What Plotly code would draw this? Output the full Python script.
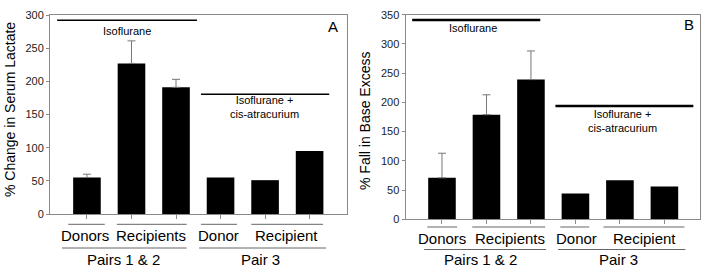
import plotly.graph_objects as go

# ---- data ----
positions = [1, 2, 3, 4, 5, 6]
lactate = [55, 227, 191, 55, 51, 95]
lactate_err = [5, 34, 12, None, None, None]
base_excess = [71, 179, 239, 44, 67, 56]
base_excess_err = [42, 34, 49, None, None, None]

group_labels = ["Donors", "Recipients", "Donor", "Recipient"]
pair_labels = ["Pairs 1 & 2", "Pair 3"]
treat_labels = ["Isoflurane", "Isoflurane +<br>cis-atracurium"]

# ---- decoration layout (positions in x data units) ----
A_group_spans = [(0.58, 1.40), (1.67, 3.24), (3.56, 4.37), (4.69, 6.30)]
A_group_text = [0.96, 2.44, 3.96, 5.49]
A_pair_spans = [(0.44, 3.24), (3.52, 6.37)]
A_pair_text = [1.82, 4.9]
A_treat = [((0.33, 3.47), 292), ((3.56, 6.44), 180.5)]
A_treat_text = [(1.9, 31), (4.98, 107)]

B_group_spans = [(0.67, 1.34), (1.68, 3.32), (3.66, 4.31), (4.63, 6.45)]
B_group_text = [1.0, 2.52, 4.03, 5.55]
B_pair_spans = [(0.60, 3.34), (3.61, 6.47)]
B_pair_text = [1.86, 4.97]
B_treat = [((0.33, 3.21), 341), ((3.55, 6.65), 194)]
B_treat_text = [(1.7, 28), (5.06, 120.5)]

W, H = 717, 272
FONT = "Liberation Sans, Arial, sans-serif"
GRAY = "#8a8a8a"

def py(px):
    return (H - px) / H

fig = go.Figure()

def add_bars(xs, ys, errs, xa, ya):
    with_err = [i for i, e in enumerate(errs) if e is not None]
    without = [i for i, e in enumerate(errs) if e is None]
    fig.add_trace(go.Bar(x=[xs[i] for i in with_err], y=[ys[i] for i in with_err], width=0.62,
                         marker=dict(color="black", line=dict(width=0)),
                         error_y=dict(type="data", array=[errs[i] for i in with_err], symmetric=False,
                                      arrayminus=[0] * len(with_err), color="#777777", thickness=1, width=4),
                         xaxis=xa, yaxis=ya, showlegend=False))
    fig.add_trace(go.Bar(x=[xs[i] for i in without], y=[ys[i] for i in without], width=0.62,
                         marker=dict(color="black", line=dict(width=0)),
                         xaxis=xa, yaxis=ya, showlegend=False))

add_bars(positions, lactate, lactate_err, "x", "y")
add_bars(positions, base_excess, base_excess_err, "x2", "y2")

axis_common = dict(showline=True, mirror=True, linecolor=GRAY, linewidth=1, showgrid=False,
                   zeroline=False, ticks="outside", tickcolor=GRAY, fixedrange=True, automargin=False)

fig.update_layout(
    template="none", barmode="overlay",
    width=W, height=H, margin=dict(l=0, r=0, t=0, b=0, pad=0), autosize=False,
    paper_bgcolor="white", plot_bgcolor="white", showlegend=False,
    font=dict(family=FONT, color="black"),
    xaxis=dict(domain=[50 / W, 347 / W], range=[0.17, 6.84], tickvals=positions,
               ticktext=[""] * 6, ticklen=4, **axis_common),
    yaxis=dict(domain=[py(214), py(15)], range=[0, 300], dtick=50, ticklen=3,
               tickfont=dict(size=11, color="#222222"), **axis_common),
    xaxis2=dict(domain=[405.5 / W, 700 / W], range=[0.18, 6.80], tickvals=positions,
                ticktext=[""] * 6, ticklen=4, anchor="y2", **axis_common),
    yaxis2=dict(domain=[py(219.3), py(14.7)], range=[0, 350], dtick=50, ticklen=3, anchor="x2",
                tickfont=dict(size=11, color="#222222"), **axis_common),
)

annotations = []
shapes = []

def add_panel(xr, yr, gspans, gtext, pspans, ptext, treat, treat_text, treat_w,
              gline_y, gtext_y, pline_y, ptext_y):
    for (a, b) in gspans:
        shapes.append(dict(type="line", xref=xr, yref="paper", x0=a, x1=b, y0=py(gline_y), y1=py(gline_y),
                           line=dict(color="#666666", width=1)))
    for lab, x in zip(group_labels, gtext):
        annotations.append(dict(text=lab, x=x, y=py(gtext_y), xref=xr, yref="paper", showarrow=False,
                                font=dict(size=15, family=FONT), xanchor="center", yanchor="middle"))
    for (a, b) in pspans:
        shapes.append(dict(type="line", xref=xr, yref="paper", x0=a, x1=b, y0=py(pline_y), y1=py(pline_y),
                           line=dict(color="#666666", width=1)))
    for lab, x in zip(pair_labels, ptext):
        annotations.append(dict(text=lab, x=x, y=py(ptext_y), xref=xr, yref="paper", showarrow=False,
                                font=dict(size=15, family=FONT), xanchor="center", yanchor="middle"))
    for ((a, b), yv) in treat:
        shapes.append(dict(type="line", xref=xr, yref=yr, x0=a, x1=b, y0=yv, y1=yv,
                           line=dict(color="black", width=treat_w)))
    for lab, (x, ypx) in zip(treat_labels, treat_text):
        annotations.append(dict(text=lab, x=x, y=py(ypx), xref=xr, yref="paper", showarrow=False,
                                align="center", font=dict(size=11, family=FONT),
                                xanchor="center", yanchor="middle"))

add_panel("x", "y", A_group_spans, A_group_text, A_pair_spans, A_pair_text, A_treat, A_treat_text, 1.5,
          224.3, 235, 248, 259)
add_panel("x2", "y2", B_group_spans, B_group_text, B_pair_spans, B_pair_text, B_treat, B_treat_text, 2.5,
          227, 238.5, 249.5, 259.5)

# panel letters
annotations.append(dict(text="A", x=333 / W, y=py(27), xref="paper", yref="paper", showarrow=False,
                        font=dict(size=15, family=FONT), xanchor="center", yanchor="middle"))
annotations.append(dict(text="B", x=689 / W, y=py(24), xref="paper", yref="paper", showarrow=False,
                        font=dict(size=15, family=FONT), xanchor="center", yanchor="middle"))
# y-axis titles
annotations.append(dict(text="% Change in Serum Lactate", x=10 / W, y=py(110), xref="paper", yref="paper",
                        showarrow=False, textangle=-90, font=dict(size=14, family=FONT),
                        xanchor="center", yanchor="middle"))
annotations.append(dict(text="% Fall in Base Excess", x=365 / W, y=py(121), xref="paper", yref="paper",
                        showarrow=False, textangle=-90, font=dict(size=14, family=FONT),
                        xanchor="center", yanchor="middle"))

fig.update_layout(annotations=annotations, shapes=shapes)
fig.write_html("out.html", config={"displayModeBar": False},
               post_script="document.body.style.margin='0px';")
